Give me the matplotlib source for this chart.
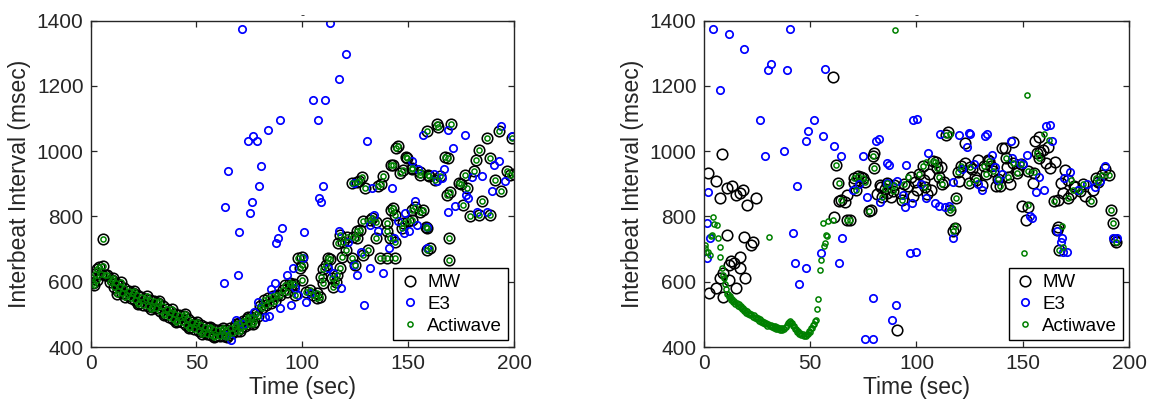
import numpy as np
import matplotlib.pyplot as plt

plt.rcParams['font.family'] = ['Liberation Sans', 'DejaVu Sans']

# ---- left panel: (time sec, interbeat interval msec) ----
left_mw = [
    (0, 615), (1, 595), (2, 625), (3, 605), (4, 645), (5, 625), (6, 648), (7, 622), (8, 622), (9, 600),
    (10, 605), (11, 585), (12, 595), (13, 572), (14, 588), (15, 565), (16, 580), (17, 558), (18, 572), (19, 550),
    (20, 565), (21, 543), (22, 558), (23, 536), (24, 552), (25, 530), (26, 547), (27, 525), (28, 543), (29, 522),
    (30, 540), (31, 518), (32, 535), (33, 510), (34, 525), (35, 500), (36, 515), (37, 492), (38, 508), (39, 486),
    (40, 502), (41, 481), (42, 499), (43, 476), (44, 494), (45, 468), (46, 486), (47, 461), (48, 478), (49, 455),
    (50, 472), (51, 450), (52, 466), (53, 445), (54, 461), (55, 440), (56, 457), (57, 437), (58, 454), (59, 435),
    (60, 453), (61, 434), (62, 452), (63, 434), (64, 453), (65, 437), (66, 457), (67, 442), (68, 464), (69, 449),
    (70, 473), (71, 458), (72, 480), (73, 465), (74, 487), (75, 472), (76, 493), (77, 478), (78, 500), (79, 495),
    (80, 525), (81, 520), (82, 545), (83, 528), (84, 550), (85, 535), (86, 555), (87, 540), (88, 558),
    (5.8, 730), (1.5, 590), (3, 640),
    (10.5, 610), (12.5, 562), (14.5, 598), (16.5, 552), (20.5, 572), (22.5, 532), (26.5, 555), (28.5, 516),
    (32.5, 542), (34.5, 498), (38.5, 515), (40.5, 476), (44.5, 500), (46.5, 458), (50.5, 478), (52.5, 441),
    (56.5, 462), (58.5, 431), (62.5, 458), (64.5, 432), (68.5, 470), (70.5, 450), (74.5, 492), (76.5, 470),
    (89.5, 559), (91, 574), (92, 590), (93, 569), (94.2, 595), (94.7, 590), (96, 592), (96.4, 559), (98, 672),
    (99, 641), (99.7, 677), (99.7, 651), (100, 605), (101.7, 569), (103.7, 574), (105, 559), (106.8, 564),
    (106.9, 549), (108.4, 554), (108.6, 615), (110, 595), (110, 640), (111, 651), (112, 672), (113, 671),
    (113.9, 610), (114.7, 585), (116, 600), (116.3, 620), (117, 718), (117.8, 641), (118, 744), (118.6, 677),
    (119.4, 723), (120.8, 698), (121, 738), (123.4, 672), (123.4, 903), (124, 738), (125, 651), (125.7, 733),
    (125.7, 906), (126, 754), (127, 908), (127.3, 758), (128, 922), (128.6, 682), (128.6, 785), (129.5, 887),
    (131, 698), (132, 789), (133, 795), (134.7, 733), (135, 784), (135.6, 892), (136.5, 672), (137, 898),
    (138.2, 923), (139.8, 779), (140, 672), (140, 754), (141.4, 733), (141.7, 821), (141.7, 959), (143, 825),
    (143, 957), (143.6, 723), (144, 672), (144, 805), (144.3, 1010), (145, 1015), (146, 933), (147, 764),
    (147.6, 779), (147.6, 942), (149, 983), (149.5, 980), (150, 785), (151.6, 789), (151.6, 947), (152, 821),
    (152, 944), (153.1, 830), (155.5, 937), (155.6, 815), (155.6, 928), (157, 820), (158.6, 768), (159, 698),
    (159, 764), (159, 1062), (159.4, 927), (160, 923), (160.2, 702), (162.5, 911), (163.4, 1082), (164, 1075),
    (165, 923), (167.2, 983), (168.3, 867), (168.7, 980), (169.5, 733), (169.5, 667), (169.6, 876),
    (170.4, 1084), (174, 903), (175, 898), (176, 836), (177, 928), (178, 887), (179, 800), (181, 939),
    (182, 974), (183.5, 1005), (183.5, 805), (185, 846), (187, 1041), (188.7, 980), (188.7, 805), (191, 913),
    (193, 1062), (194, 877), (196.5, 939), (198, 928), (199, 1041), (200, 930),
]
left_e3 = [
    (63.4, 436), (66.3, 421), (68.6, 482), (72, 472), (77.3, 508), (79, 538), (82.5, 492), (84.2, 494),
    (63, 595), (63.7, 829), (64.8, 938), (69.5, 622), (70.3, 751), (71.7, 1374), (74.2, 1031), (76.9, 1046),
    (78.5, 1031), (75.5, 812), (76.4, 843), (79.5, 892), (80.4, 954), (83.7, 1064), (89.5, 1094), (90.3, 764),
    (88.6, 735), (87.7, 720), (86.9, 595), (85.1, 577), (105.1, 1156), (110.7, 1156), (107.2, 1094),
    (107.7, 858), (108.9, 843), (110, 892), (113, 1392), (117.3, 1221), (120.8, 1297), (100.8, 751), (100.4, 672),
    (129.2, 530), (130.4, 1031), (132, 641), (138.2, 626), (157, 1048), (177, 1048), (171.3, 1010), (168.7, 1064),
    (159, 703), (153, 848), (154, 774), (147.8, 749), (145.2, 785), (148.7, 810), (150.4, 754), (159, 769),
    (167, 944), (168.7, 815), (172, 831), (177.3, 867), (178.2, 856), (185, 923), (187, 813), (189.6, 877),
    (190.4, 959), (193, 969), (194, 1077), (195.6, 908), (182.6, 815), (135.6, 754), (127.8, 692), (124.3, 651),
    (118.2, 580), (117.3, 754), (121.7, 723), (126, 620), (95.6, 641), (94.7, 528), (89.5, 518), (93, 621),
    (96.4, 580), (98, 559), (101.7, 538), (103.4, 564), (114.7, 626), (112, 641), (143.4, 733), (140.8, 703),
    (132, 774), (134, 805), (142.5, 887), (133, 887), (124.3, 903), (152, 969), (154.7, 944), (163.4, 908),
    (166, 918), (199, 1045), (180, 920), (162, 930),
]
# Actiwave sits inside the MW circles in this recording
left_aw = left_mw

# ---- right panel ----
right_mw = [
    (2.3, 933), (5.7, 908), (7.5, 856), (8.7, 990), (11, 887), (13.5, 892), (15.3, 867), (17, 872),
    (18.4, 882), (20.5, 836), (24.8, 856), (11, 744), (18.8, 738), (22.2, 713), (23, 723), (2.8, 564),
    (5.7, 580), (7.5, 610), (9.2, 554), (11.8, 605), (12.7, 662), (14.4, 656), (15.3, 580), (17, 677),
    (17, 641), (19.6, 610), (9.2, 626), (11.8, 651), (60.8, 1228), (90.8, 453),
    (61.2, 797), (63, 903), (62.1, 959), (63.8, 846), (64.4, 850), (66.4, 843), (67.3, 790), (67.5, 865),
    (69, 790), (70.7, 901), (70.8, 918), (72.5, 923), (73.8, 922), (75.1, 918), (77.7, 817), (78.6, 820),
    (79.4, 985), (80.2, 993), (80.3, 949), (82.9, 897), (83.3, 891), (86.4, 903), (86.4, 871), (89, 877),
    (89.6, 896), (92.5, 872), (96, 892), (97.5, 922), (98.5, 862), (100.4, 881), (102.9, 954), (103.5, 911),
    (105, 870), (107, 881), (108, 969), (109.3, 968), (109.8, 949), (111.7, 952), (114.1, 1051), (114.9, 1059),
    (115.9, 821), (117.2, 754), (118, 764), (118.5, 856), (120.2, 908), (121.1, 954), (122.7, 963),
    (122.8, 1026), (124.5, 903), (127.5, 922), (128, 913), (129, 973), (130.6, 896), (131.5, 954),
    (133.7, 973), (134.1, 969), (137.6, 892), (139.3, 892), (140.2, 1010), (141.6, 1009), (141.9, 980),
    (145.4, 964), (145.5, 1029), (147.1, 933), (147.9, 942), (149.7, 831), (151.4, 790), (152.3, 938),
    (152.6, 830), (154.9, 903), (155, 933), (155.8, 1031), (156.6, 995), (157.4, 1044), (157.5, 980),
    (158.1, 998), (159.3, 1005), (161, 964), (162, 1013), (162.7, 949), (164.4, 846), (165.1, 968),
    (165.8, 759), (166.7, 768), (166.7, 850), (167, 698), (167.9, 903), (168.8, 872), (169.8, 942),
    (171.4, 856), (171.4, 911), (174, 892), (174.6, 891), (176.6, 877), (179.2, 862), (181.8, 846),
    (184.4, 918), (187, 928), (188.7, 944), (190.4, 928), (191.3, 821), (192.2, 779), (193.1, 728),
    (193.9, 723), (84, 860), (93, 850), (101, 930), (112, 900), (125, 950), (136, 940), (143, 920),
    (71.5, 880), (76, 905), (81.5, 870), (85, 885), (88, 860), (94, 900), (99.5, 905), (104, 890),
    (106, 930), (110.5, 920), (113, 905), (119.5, 935), (126, 945), (132.5, 930), (135, 955), (138.5, 915),
    (142.5, 950), (144, 900), (149, 960), (172.5, 870), (178, 900), (183, 880), (185.5, 905),
]
right_e3 = [
    (4.5, 1374), (11.8, 1359), (19.1, 1313), (7.5, 1187), (31.7, 1267), (30.5, 1249), (39, 1249), (40.4, 1374),
    (26.5, 1094), (29.1, 985), (37.8, 1000), (43.9, 892), (42.2, 749), (43, 656), (44.8, 592), (48.2, 641),
    (47.9, 1031), (49.1, 1062), (52, 1094), (56, 1046), (57.2, 1251), (61.2, 1015), (64.7, 985), (65.2, 735),
    (63.5, 656), (55.2, 687), (1.4, 779), (2.3, 875), (3.1, 735), (1.7, 672), (76, 424), (79.8, 424),
    (79.5, 549), (88.6, 484), (90.2, 530), (97.1, 687), (98.5, 1094), (80.8, 1031), (75.1, 985),
    (120.2, 1051), (124.5, 1056), (132.4, 1046), (115.5, 831), (117.2, 735), (110.7, 831), (161, 1077),
    (156.1, 875), (153.2, 800), (144.5, 1031), (188.7, 954), (192.2, 733), (168, 723), (168.8, 692),
    (166.2, 754), (163.6, 1031), (82.6, 1036), (87.3, 957),
    (100.4, 1100), (99.7, 692), (111, 1054), (125.2, 1054), (133, 1054), (105.6, 993), (95.3, 958),
    (86.4, 963), (94.5, 830), (104.7, 855), (113.4, 830), (130.6, 881), (138.5, 911), (148.7, 963),
    (151.8, 988), (159.7, 881), (162.9, 1080), (157.4, 922), (169.1, 917), (172.2, 937), (168.2, 733),
    (170.6, 692), (154.2, 794), (123.6, 1013), (121.3, 946), (140.1, 931), (135.4, 988), (86.4, 901),
    (93.9, 865), (97.8, 840), (108.8, 840), (70, 880), (73, 900), (77, 860), (83, 845), (91, 910),
    (102, 900), (117, 905), (127, 960), (129, 900), (137, 950), (145, 980), (150, 960), (176, 880),
    (180, 900), (184, 890), (186, 910), (194, 735),
]
right_aw = [
    (0.6, 712), (0.5, 703), (1.2, 690), (2.2, 692), (2.9, 682), (3.5, 740), (4, 744), (4.6, 799), (5, 778),
    (6.2, 774), (6.9, 733), (7.5, 705), (7.9, 677), (8.7, 641), (9.2, 620), (30.6, 738),
    (9.5, 612), (10, 592), (10.5, 577), (11, 562), (11.5, 563), (12, 552), (12.5, 555), (13, 545),
    (13.5, 548), (14, 539), (14.5, 541), (15, 533), (15.5, 536), (16, 527), (16.5, 531), (17, 522),
    (17.5, 525), (18, 516), (18.5, 519), (19, 510), (19.5, 514), (20, 505), (20.5, 509), (21, 501),
    (21.5, 505), (22, 497), (22.5, 501), (23, 493), (23.5, 497), (24, 489), (24.5, 493), (25, 485),
    (25.5, 489), (26, 481), (26.5, 485), (27, 477), (27.5, 481), (28, 473), (28.5, 477), (29, 469),
    (29.5, 473), (30, 465), (30.5, 470), (31, 463), (31.5, 468), (32, 461), (32.5, 465), (33, 458),
    (33.5, 463), (34, 456), (34.5, 461), (35, 454), (35.5, 459), (36, 452), (36.5, 458), (37, 452),
    (37.5, 459), (38, 455), (38.5, 462), (39, 466), (39.5, 474), (40, 476), (40.5, 480), (41, 474),
    (41.5, 474), (42, 464), (42.5, 463), (43, 454), (43.5, 454), (44, 447), (44.5, 449), (45, 441),
    (45.5, 444), (46, 437), (46.5, 440), (47, 433), (47.5, 437), (48, 433), (48.5, 440), (49, 439),
    (49.5, 448), (50, 447), (50.5, 457), (51, 457), (51.5, 468), (52, 469), (52.5, 480), (53, 483),
    (53.5, 515), (53.8, 548), (55.2, 667), (54.8, 636), (56.5, 708), (57.8, 739), (56, 779),
    (58.6, 785), (60.7, 790), (57.2, 718), (57.7, 743),
    (89.9, 1371), (151.8, 1172), (150.6, 687),
    (62, 959), (63.8, 903), (64.4, 850), (67.3, 790), (69, 790), (70.8, 918), (72.5, 923), (75.1, 918),
    (77.7, 817), (79.4, 985), (80.3, 949), (86.4, 903), (89, 877), (89.6, 896), (95.9, 922), (102.9, 954),
    (104.7, 968), (108, 969), (108.5, 968), (109.8, 949), (114.1, 1051), (115.7, 1054), (115.9, 821),
    (116.5, 825), (117.2, 754), (118, 770), (118.5, 856), (121.1, 954), (124.5, 903), (128, 913),
    (131.5, 954), (134.1, 969), (139.3, 892), (141.9, 980), (145.4, 964), (147.1, 933), (152.3, 938),
    (152.6, 835), (155, 937), (156.6, 995), (157.5, 980), (160, 1054), (162.1, 1034), (164.4, 846),
    (167, 698), (168.2, 770), (169, 707), (171.4, 856), (172.8, 911), (173.6, 881), (176.6, 877),
    (181.8, 846), (184.4, 918), (187, 928), (190.4, 928), (191.3, 821), (192.2, 779), (193.9, 723),
    (84, 860), (93, 850), (101, 930), (112, 900), (125, 950), (136, 940), (143, 920),
    (71.5, 880), (76, 905), (85, 885), (94, 900), (104, 890), (110.5, 920), (119.5, 935), (132.5, 930),
    (138.5, 915), (149, 960), (178, 900), (185.5, 905),
]

series_names = ['MW', 'E3', 'Actiwave']
x_ticks = [0, 50, 100, 150, 200]
y_ticks = [400, 600, 800, 1000, 1200, 1400]

styles = [
    dict(color='black', ms=7.6, mew=1.15),
    dict(color='#0000ff', ms=5.3, mew=1.25),
    dict(color='#008000', ms=3.7, mew=1.1),
]


def draw_panel(ax, panel):
    for data, name, st in zip(panel, series_names, styles):
        arr = np.array(data, dtype=float)
        ax.plot(arr[:, 0], arr[:, 1], 'o', mfc='none', mec=st['color'],
                ms=st['ms'], mew=st['mew'], label=name, clip_on=True)
    ax.set_xlim(0, 200)
    ax.set_ylim(400, 1400)
    ax.set_xticks(x_ticks)
    ax.set_yticks(y_ticks)
    ax.tick_params(direction='in', length=4, width=0.9, top=True, right=True,
                   labelsize=15, colors='#262626', pad=5)
    for sp in ax.spines.values():
        sp.set_linewidth(1.0)
        sp.set_color('#262626')
    ax.set_xlabel('Time (sec)', fontsize=16.5, color='#262626', labelpad=2)
    ax.set_ylabel('Interbeat Interval (msec)', fontsize=16.5, color='#262626', labelpad=4)
    ax.set_title('-', fontsize=9, pad=1, color='#262626')
    leg = ax.legend(loc='lower right', fontsize=13.5, frameon=True, fancybox=False,
                    framealpha=1, edgecolor='black', borderaxespad=0.35,
                    handletextpad=0.3, labelspacing=0.25, borderpad=0.3,
                    handlelength=1.2)
    leg.get_frame().set_linewidth(1.0)


fig = plt.figure(figsize=(11.49, 4.08), dpi=100)
ax1 = fig.add_axes([0.0788, 0.1495, 0.3686, 0.80])
ax2 = fig.add_axes([0.6123, 0.1495, 0.3706, 0.80])
draw_panel(ax1, [left_mw, left_e3, left_aw])
draw_panel(ax2, [right_mw, right_e3, right_aw])

fig.savefig('out.png', dpi=100)
